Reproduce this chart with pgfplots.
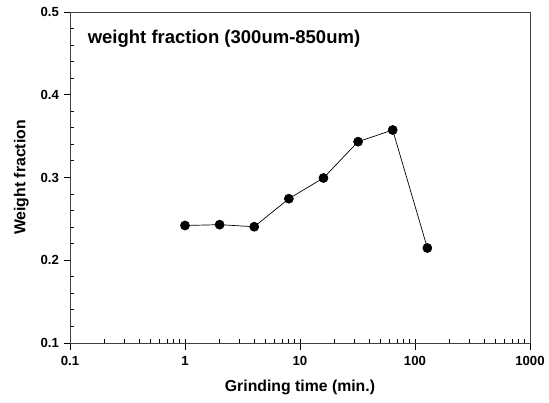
\documentclass[border=0pt]{standalone}
\usepackage{pgfplots}
\pgfplotsset{compat=1.18}
\usepackage{fontspec}
\setmainfont{Liberation Sans}
\begin{document}
\begin{tikzpicture}[x=1pt,y=1pt]
\useasboundingbox (0,0) rectangle (549,402);
\begin{axis}[
  at={(70pt,59pt)}, anchor=south west,
  scale only axis, width=460pt, height=331pt,
  xmode=log, xmin=0.1, xmax=1000,
  ymin=0.1, ymax=0.5,
  xtick={0.1,1,10,100,1000},
  xticklabels={0.1,1,10,100,1000},
  ytick={0.1,0.2,0.3,0.4,0.5},
  yticklabels={0.1,0.2,0.3,0.4,0.5},
  minor y tick num=4,
  xtick pos=bottom, ytick pos=left,
  tick align=outside,
  major tick length=6.5pt,
  minor tick length=4pt,
  minor x tick style={yshift=4pt},
  minor y tick style={xshift=4pt},
  tick style={black, line width=0.9pt},
  axis line style={line width=0.9pt, black!75},
  /pgf/number format/assume math mode=true,
  ticklabel style={font=\bfseries\fontsize{13.2}{15}\selectfont},
  xticklabel style={yshift=-3pt},
  yticklabel style={xshift=-1pt},
  xlabel={Grinding time (min.)},
  ylabel={Weight fraction},
  label style={font=\bfseries\fontsize{15.8}{18}\selectfont},
  xlabel style={yshift=-8pt},
  ylabel style={yshift=5pt},
  clip=false,
]
\addplot[black, line width=0.7pt, mark=*, mark size=4.5pt, mark options={fill=black}]
  coordinates {(1,0.242) (2,0.243) (4,0.2405) (8,0.2744) (16,0.2994) (32,0.3433) (64,0.3574) (128,0.2148)};
\node[anchor=west, font=\bfseries\fontsize{18.5}{20}\selectfont] at (rel axis cs:0.031,0.919) {weight fraction (300um-850um)};
\end{axis}
\end{tikzpicture}
\end{document}
